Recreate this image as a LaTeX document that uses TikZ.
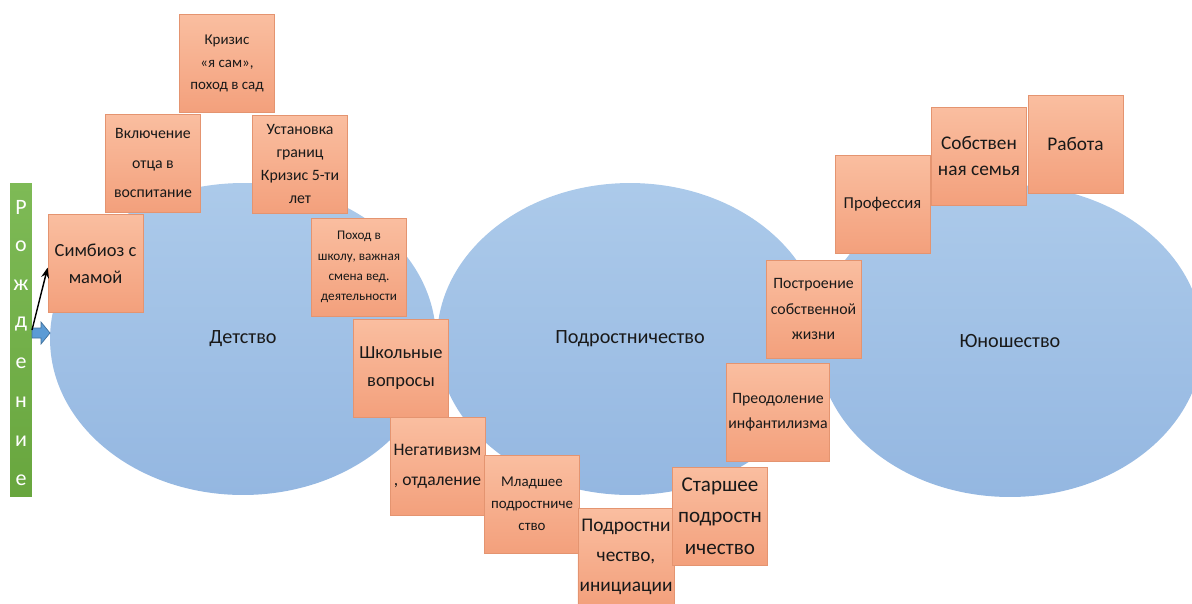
\documentclass[tikz,border=0pt]{standalone}
\usepackage{fontspec}
\setmainfont{Carlito}
\usetikzlibrary{positioning,arrows.meta,shapes.geometric}

\definecolor{agetop}{RGB}{172,202,234}
\definecolor{agebot}{RGB}{148,183,225}
\definecolor{boxtop}{RGB}{250,190,160}
\definecolor{boxbot}{RGB}{243,160,124}
\definecolor{boxline}{RGB}{228,148,112}
\definecolor{bartop}{RGB}{126,186,86}
\definecolor{barbot}{RGB}{104,166,62}
\definecolor{arrblue}{RGB}{91,155,213}
\definecolor{arrline}{RGB}{65,113,156}
\definecolor{inkdark}{RGB}{25,25,25}

\newcommand\boxfont[2]{\fontsize{#1}{#2}\selectfont}

\begin{document}
\begin{tikzpicture}
	[x=0.02cm,y=-0.02cm,
	age/.style={ellipse,draw=none,top color=agetop,bottom color=agebot,
		minimum width=7.72cm,minimum height=6.24cm,inner sep=0pt,
		text=inkdark,font=\boxfont{11.5}{13}},
	stage/.style={rectangle,draw=boxline,top color=boxtop,bottom color=boxbot,
		minimum width=1.9cm,minimum height=1.96cm,inner sep=1pt,
		align=center,text=inkdark},
	letter/.style={draw=none,fill=none,inner sep=0pt,text=white,font=\boxfont{12.5}{14}}]
	\useasboundingbox (0,0) rectangle (1192,603);
	
	% three ages
	\node[age] (childhood) at (243,339) {Детство};
	\node[age] (teen) at (630,339) {Подростничество};
	\node[age] (youth) at (1010,341) {Юношество};
	
	% stages of childhood
	\node[stage,font=\boxfont{8.5}{13}] (krizis) at (227,63.5) {Кризис\\«я сам»,\\поход в сад};
	\node[stage,font=\boxfont{9}{17}] (otec) at (153,163) {Включение\\отца в\\воспитание};
	\node[stage,font=\boxfont{9}{13}] (granicy) at (300,164) {Установка\\границ\\Кризис 5-ти\\лет};
	\node[stage,font=\boxfont{7.5}{11.5}] (shkola) at (359,267) {Поход в\\школу, важная\\смена вед.\\деятельности};
	\node[stage,font=\boxfont{10.5}{15.5}] (simbioz) at (95.5,263.5) {Симбиоз с\\мамой};
	\node[stage,font=\boxfont{10.5}{15.5}] (voprosy) at (401,368) {Школьные\\вопросы};
	\node[stage,font=\boxfont{10}{17}] (negativ) at (437.5,466.5) {Негативизм\\, отдаление};
	
	% stages of adolescence
	\node[stage,font=\boxfont{8.5}{12.5}] (mladshee) at (532,504) {Младшее\\подростниче\\ство};
	\node[stage,font=\boxfont{11}{17}] (iniciacii) at (626,557) {Подростни\\чество,\\инициации};
	\node[stage,font=\boxfont{12}{18}] (starshee) at (720,516) {Старшее\\подростн\\ичество};
	\node[stage,font=\boxfont{9}{14},minimum width=2.04cm] (infant) at (778,412) {Преодоление\\инфантилизма};
	\node[stage,font=\boxfont{9}{14.5}] (postr) at (813.5,309) {Построение\\собственной\\жизни};
	
	% stages of youth
	\node[stage,font=\boxfont{9.5}{14}] (prof) at (882.5,204) {Профессия};
	\node[stage,font=\boxfont{11}{15}] (semya) at (979,156) {Собствен\\ная семья};
	\node[stage,font=\boxfont{11}{15}] (rabota) at (1075.5,144) {Работа};
	
	% birth bar
	\node[rectangle,draw=none,top color=bartop,bottom color=barbot,
		minimum width=0.44cm,minimum height=6.28cm,inner sep=0pt] (birth) at (21,340) {};
	\foreach \l [count=\i from 0] in {Р,о,ж,д,е,н,и,е}
		\node[letter] (b\i) at (21,207+39*\i) {\l};
	
	\coordinate (birthout) at (32,330);
	\draw[fill=arrblue,draw=arrline,line width=0.4pt]
		(32,328) -- (41,328) -- (41,322) -- (50,333) -- (41,344) -- (41,338) -- (32,338) -- cycle;
	\draw[-{Stealth[length=6pt,width=4.5pt]},line width=0.8pt] (birthout) to ([yshift=-0.08cm]simbioz.west);
\end{tikzpicture}
\end{document}
